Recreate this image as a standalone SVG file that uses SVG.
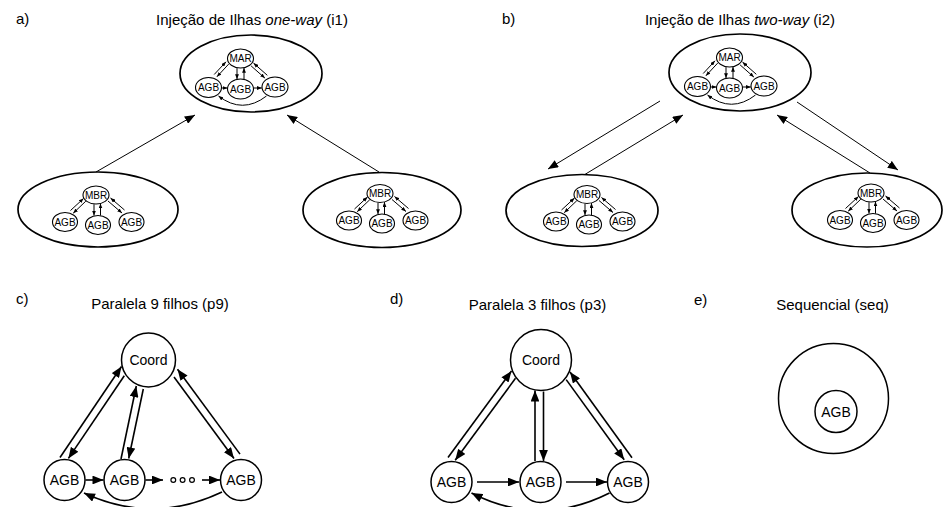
<svg xmlns="http://www.w3.org/2000/svg" width="943" height="507" viewBox="0 0 943 507">
  <defs>
    <marker id="ah" viewBox="0 0 10 8" refX="10" refY="4" markerWidth="11.5" markerHeight="8.8" orient="auto" markerUnits="userSpaceOnUse">
      <path d="M0,0 L10,4 L0,8 Z" fill="#000"/>
    </marker>
    <marker id="al" viewBox="0 0 10 8" refX="10" refY="4" markerWidth="10.5" markerHeight="8.2" orient="auto" markerUnits="userSpaceOnUse">
      <path d="M0,0 L10,4 L0,8 Z" fill="#000"/>
    </marker>
    <marker id="as" viewBox="0 0 10 8" refX="10" refY="4" markerWidth="4.8" markerHeight="4" orient="auto" markerUnits="userSpaceOnUse">
      <path d="M0,0 L10,4 L0,8 Z" fill="#000"/>
    </marker>
    <style>
      text { font-family: "Liberation Sans", Arial, sans-serif; fill: #000; }
      .lbl { font-size: 15px; }
      .ttl { font-size: 15px; text-anchor: middle; }
      .isl { fill: #fff; stroke: #000; stroke-width: 1.7; }
      .sub { fill: #fff; stroke: #000; stroke-width: 1.1; }
      .subt { font-size: 10px; text-anchor: middle; }
      .node { fill: #fff; stroke: #000; stroke-width: 1.5; }
      .nt { font-size: 14px; text-anchor: middle; }
      .sl { stroke: #000; stroke-width: 1; fill: none; marker-end: url(#as); }
      .cn { stroke: #000; stroke-width: 1.6; fill: none; marker-end: url(#ah); }
      .link { stroke: #000; stroke-width: 1; fill: none; marker-end: url(#al); }
      .dot { fill: none; stroke: #000; stroke-width: 1.2; }
    </style>
  </defs>
  <rect width="943" height="507" fill="#fff"/>

  <!-- panel labels and titles -->
  <g id="labels">
    <text class="lbl" x="16" y="24">a)</text>
    <text class="ttl" x="252" y="25">Injeção de Ilhas <tspan font-style="italic">one-way</tspan> (i1)</text>
    <text class="lbl" x="502" y="24">b)</text>
    <text class="ttl" x="740" y="25">Injeção de Ilhas <tspan font-style="italic">two-way</tspan> (i2)</text>
    <text class="lbl" x="16" y="304">c)</text>
    <text class="ttl" x="160" y="309">Paralela 9 filhos (p9)</text>
    <text class="lbl" x="390" y="304">d)</text>
    <text class="ttl" x="537.5" y="310">Paralela 3 filhos (p3)</text>
    <text class="lbl" x="694" y="305">e)</text>
    <text class="ttl" x="832.5" y="310">Sequencial (seq)</text>
  </g>

  <!-- connectors between islands -->
  <g id="island-links">
    <line class="link" x1="96" y1="172" x2="195" y2="115"/>
    <line class="link" x1="379" y1="172" x2="287" y2="115"/>
    <line class="link" x1="660" y1="101" x2="548" y2="169"/>
    <line class="link" x1="584" y1="175" x2="683" y2="115"/>
    <line class="link" x1="870" y1="173" x2="777" y2="115"/>
    <line class="link" x1="797" y1="102" x2="898" y2="170"/>
  </g>

  <!-- a) master island -->
  <g id="island-a-master">
    <ellipse class="isl" cx="251" cy="73.5" rx="71" ry="38.5"/>
    <g transform="translate(240.5,58.5)">
      <line class="sl" x1="-19" y1="29.5" x2="-13" y2="29.5"/>
      <line class="sl" x1="13" y1="29.5" x2="21.3" y2="29.5"/>
      <path class="sl" d="M26 37.5 Q2 56 -22 37.5"/>
      <line class="sl" x1="-26.3" y1="16" x2="-14.5" y2="3.3"/>
      <line class="sl" x1="-11.8" y1="5.6" x2="-23.6" y2="18.3"/>
      <line class="sl" x1="-3.5" y1="9.6" x2="-3.5" y2="20.6"/>
      <line class="sl" x1="3.5" y1="20.6" x2="3.5" y2="9.4"/>
      <line class="sl" x1="26.8" y1="16.8" x2="13" y2="4.6"/>
      <line class="sl" x1="10.6" y1="7.4" x2="24.4" y2="19.6"/>
      <ellipse class="sub" cx="0" cy="0" rx="13" ry="9.5"/>
      <text class="subt" x="0" y="3.6">MAR</text>
      <ellipse class="sub" cx="-32" cy="29" rx="13" ry="10"/>
      <text class="subt" x="-32" y="32.6">AGB</text>
      <ellipse class="sub" cx="0" cy="30.5" rx="13" ry="10"/>
      <text class="subt" x="0" y="34.1">AGB</text>
      <ellipse class="sub" cx="34.5" cy="28.5" rx="13" ry="10"/>
      <text class="subt" x="34.5" y="32.1">AGB</text>
    </g>
  </g>

  <!-- a) left slave island -->
  <g id="island-a-left">
    <ellipse class="isl" cx="98" cy="209.5" rx="80" ry="37.5"/>
    <g transform="translate(96,195)">
      <line class="sl" x1="-25.5" y1="15.5" x2="-12.5" y2="3.5"/>
      <line class="sl" x1="-10.2" y1="6.2" x2="-22.8" y2="18.2"/>
      <line class="sl" x1="-2" y1="9.2" x2="-2" y2="20.6"/>
      <line class="sl" x1="4.5" y1="20.6" x2="4.5" y2="8.6"/>
      <line class="sl" x1="28.5" y1="15" x2="14.5" y2="3"/>
      <line class="sl" x1="12" y1="6" x2="26" y2="18"/>
      <ellipse class="sub" cx="0" cy="0" rx="13" ry="9"/>
      <text class="subt" x="0" y="3.6">MBR</text>
      <ellipse class="sub" cx="-31" cy="27" rx="12.5" ry="9.5"/>
      <text class="subt" x="-31" y="30.6">AGB</text>
      <ellipse class="sub" cx="2" cy="30" rx="12.5" ry="9.5"/>
      <text class="subt" x="2" y="33.6">AGB</text>
      <ellipse class="sub" cx="35.5" cy="27" rx="12.5" ry="9.5"/>
      <text class="subt" x="35.5" y="30.6">AGB</text>
    </g>
  </g>

  <!-- a) right slave island -->
  <g id="island-a-right">
    <ellipse class="isl" cx="382" cy="210" rx="79" ry="37.5"/>
    <g transform="translate(380,193.5)">
      <line class="sl" x1="-25.5" y1="15.5" x2="-12.5" y2="3.5"/>
      <line class="sl" x1="-10.2" y1="6.2" x2="-22.8" y2="18.2"/>
      <line class="sl" x1="-2" y1="9.2" x2="-2" y2="20.6"/>
      <line class="sl" x1="4.5" y1="20.6" x2="4.5" y2="8.6"/>
      <line class="sl" x1="28.5" y1="15" x2="14.5" y2="3"/>
      <line class="sl" x1="12" y1="6" x2="26" y2="18"/>
      <ellipse class="sub" cx="0" cy="0" rx="13" ry="9"/>
      <text class="subt" x="0" y="3.6">MBR</text>
      <ellipse class="sub" cx="-31" cy="27" rx="12.5" ry="9.5"/>
      <text class="subt" x="-31" y="30.6">AGB</text>
      <ellipse class="sub" cx="2" cy="30" rx="12.5" ry="9.5"/>
      <text class="subt" x="2" y="33.6">AGB</text>
      <ellipse class="sub" cx="35.5" cy="27" rx="12.5" ry="9.5"/>
      <text class="subt" x="35.5" y="30.6">AGB</text>
    </g>
  </g>

  <!-- b) master island -->
  <g id="island-b-master">
    <ellipse class="isl" cx="740" cy="72.5" rx="71" ry="38.5"/>
    <g transform="translate(729.5,57.5)">
      <line class="sl" x1="-19" y1="29.5" x2="-13" y2="29.5"/>
      <line class="sl" x1="13" y1="29.5" x2="21.3" y2="29.5"/>
      <path class="sl" d="M26 37.5 Q2 56 -22 37.5"/>
      <line class="sl" x1="-26.3" y1="16" x2="-14.5" y2="3.3"/>
      <line class="sl" x1="-11.8" y1="5.6" x2="-23.6" y2="18.3"/>
      <line class="sl" x1="-3.5" y1="9.6" x2="-3.5" y2="20.6"/>
      <line class="sl" x1="3.5" y1="20.6" x2="3.5" y2="9.4"/>
      <line class="sl" x1="26.8" y1="16.8" x2="13" y2="4.6"/>
      <line class="sl" x1="10.6" y1="7.4" x2="24.4" y2="19.6"/>
      <ellipse class="sub" cx="0" cy="0" rx="13" ry="9.5"/>
      <text class="subt" x="0" y="3.6">MAR</text>
      <ellipse class="sub" cx="-32" cy="29" rx="13" ry="10"/>
      <text class="subt" x="-32" y="32.6">AGB</text>
      <ellipse class="sub" cx="0" cy="30.5" rx="13" ry="10"/>
      <text class="subt" x="0" y="34.1">AGB</text>
      <ellipse class="sub" cx="34.5" cy="28.5" rx="13" ry="10"/>
      <text class="subt" x="34.5" y="32.1">AGB</text>
    </g>
  </g>

  <!-- b) left slave island -->
  <g id="island-b-left">
    <ellipse class="isl" cx="582" cy="210.5" rx="76" ry="36"/>
    <g transform="translate(587,194.5)">
      <line class="sl" x1="-25.5" y1="15.5" x2="-12.5" y2="3.5"/>
      <line class="sl" x1="-10.2" y1="6.2" x2="-22.8" y2="18.2"/>
      <line class="sl" x1="-2" y1="9.2" x2="-2" y2="20.6"/>
      <line class="sl" x1="4.5" y1="20.6" x2="4.5" y2="8.6"/>
      <line class="sl" x1="28.5" y1="15" x2="14.5" y2="3"/>
      <line class="sl" x1="12" y1="6" x2="26" y2="18"/>
      <ellipse class="sub" cx="0" cy="0" rx="13" ry="9"/>
      <text class="subt" x="0" y="3.6">MBR</text>
      <ellipse class="sub" cx="-31" cy="27" rx="12.5" ry="9.5"/>
      <text class="subt" x="-31" y="30.6">AGB</text>
      <ellipse class="sub" cx="2" cy="30" rx="12.5" ry="9.5"/>
      <text class="subt" x="2" y="33.6">AGB</text>
      <ellipse class="sub" cx="35.5" cy="27" rx="12.5" ry="9.5"/>
      <text class="subt" x="35.5" y="30.6">AGB</text>
    </g>
  </g>

  <!-- b) right slave island -->
  <g id="island-b-right">
    <ellipse class="isl" cx="867" cy="210" rx="75" ry="37"/>
    <g transform="translate(871,193)">
      <line class="sl" x1="-25.5" y1="15.5" x2="-12.5" y2="3.5"/>
      <line class="sl" x1="-10.2" y1="6.2" x2="-22.8" y2="18.2"/>
      <line class="sl" x1="-2" y1="9.2" x2="-2" y2="20.6"/>
      <line class="sl" x1="4.5" y1="20.6" x2="4.5" y2="8.6"/>
      <line class="sl" x1="28.5" y1="15" x2="14.5" y2="3"/>
      <line class="sl" x1="12" y1="6" x2="26" y2="18"/>
      <ellipse class="sub" cx="0" cy="0" rx="13" ry="9"/>
      <text class="subt" x="0" y="3.6">MBR</text>
      <ellipse class="sub" cx="-31" cy="27" rx="12.5" ry="9.5"/>
      <text class="subt" x="-31" y="30.6">AGB</text>
      <ellipse class="sub" cx="2" cy="30" rx="12.5" ry="9.5"/>
      <text class="subt" x="2" y="33.6">AGB</text>
      <ellipse class="sub" cx="35.5" cy="27" rx="12.5" ry="9.5"/>
      <text class="subt" x="35.5" y="30.6">AGB</text>
    </g>
  </g>

  <!-- c) and d) connectors -->
  <g id="connectors">
    <!-- c: coordinator links -->
    <line class="cn" x1="60" y1="457.5" x2="121.5" y2="366.5"/>
    <line class="cn" x1="124.3" y1="375.7" x2="68.4" y2="458.4"/>
    <line class="cn" x1="121" y1="459" x2="136.3" y2="386"/>
    <line class="cn" x1="143.3" y1="389" x2="128.7" y2="458.5"/>
    <line class="cn" x1="174" y1="377" x2="234" y2="458.5"/>
    <line class="cn" x1="240" y1="454.1" x2="177.5" y2="369.3"/>
    <!-- c: ring -->
    <line class="cn" x1="85.5" y1="480" x2="103.5" y2="480"/>
    <line class="cn" x1="145.5" y1="480" x2="163" y2="480"/>
    <line class="cn" x1="202" y1="480" x2="220" y2="480"/>
    <path class="cn" d="M222 492 Q153 525 84 493"/>
    <!-- d: coordinator links -->
    <line class="cn" x1="448" y1="457.5" x2="511.5" y2="371"/>
    <line class="cn" x1="515.5" y1="378.3" x2="455.2" y2="460.3"/>
    <line class="cn" x1="535" y1="461" x2="535" y2="390.5"/>
    <line class="cn" x1="543.5" y1="391.5" x2="543.5" y2="461"/>
    <line class="cn" x1="566.2" y1="379.6" x2="624.2" y2="459.8"/>
    <line class="cn" x1="632" y1="457.8" x2="570" y2="372"/>
    <!-- d: ring -->
    <line class="cn" x1="477" y1="482" x2="519" y2="482"/>
    <line class="cn" x1="566" y1="482" x2="607" y2="482"/>
    <path class="cn" d="M609.5 493 Q540 528 471.5 493"/>
  </g>

  <!-- c) nodes -->
  <g id="c-coord"><circle class="node" cx="148.5" cy="360" r="27"/><text class="nt" x="148.5" y="365">Coord</text></g>
  <g id="c-agb1"><circle class="node" cx="64.5" cy="480" r="20.5"/><text class="nt" x="64.5" y="485">AGB</text></g>
  <g id="c-agb2"><circle class="node" cx="124.5" cy="480" r="20.5"/><text class="nt" x="124.5" y="485">AGB</text></g>
  <g id="c-ellipsis">
    <circle class="dot" cx="173.3" cy="480" r="2.4"/>
    <circle class="dot" cx="182.6" cy="480" r="2.4"/>
    <circle class="dot" cx="192" cy="480" r="2.4"/>
  </g>
  <g id="c-agb9"><circle class="node" cx="241" cy="480" r="20.5"/><text class="nt" x="241" y="485">AGB</text></g>

  <!-- d) nodes -->
  <g id="d-coord"><circle class="node" cx="541" cy="360" r="30.5"/><text class="nt" x="541" y="365">Coord</text></g>
  <g id="d-agb1"><circle class="node" cx="451.5" cy="482" r="20.5"/><text class="nt" x="451.5" y="487">AGB</text></g>
  <g id="d-agb2"><circle class="node" cx="540.5" cy="482" r="20.5"/><text class="nt" x="540.5" y="487">AGB</text></g>
  <g id="d-agb3"><circle class="node" cx="628" cy="482" r="20.5"/><text class="nt" x="628" y="487">AGB</text></g>

  <!-- e) sequential -->
  <g id="e-seq">
    <circle class="node" cx="833.5" cy="398.5" r="55"/>
    <circle class="node" cx="836" cy="411.5" r="21"/>
    <text class="nt" x="836" y="416.5">AGB</text>
  </g>
</svg>
